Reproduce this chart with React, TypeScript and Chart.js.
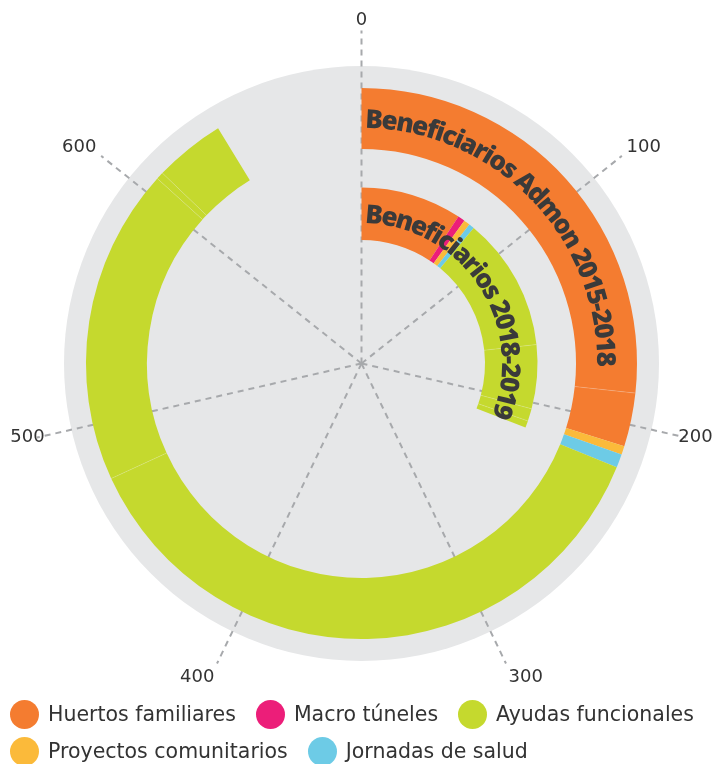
import React, { useEffect, useRef } from 'react';
import { Chart, registerables } from 'chart.js';

Chart.register(...registerables);

// ---- data ----
const seriesNames = ['Huertos familiares', 'Macro túneles', 'Ayudas funcionales', 'Proyectos comunitarios', 'Jornadas de salud'];
const seriesColors = ['#F47C30', '#EC1E79', '#C5D92E', '#FBBA3A', '#6DCBE6'];
const ringLabels = ['Beneficiarios Admon 2015-2018', 'Beneficiarios 2018-2019'];
// stacked segments (in order, clockwise from 0) : series index + value
const admonSeries = [0, 0, 3, 4, 2, 2, 2, 2];
const admonValues = [187, 22, 3.5, 5.5, 259, 130, 3, 29];
const benefSeries = [0, 1, 3, 4, 2, 2, 2, 2];
const benefValues = [65, 4.5, 4, 3.5, 86, 41, 8, 4.5];
const axisMax = 700;
const angleTicks = [0, 100, 200, 300, 400, 500, 600];

const TAU = Math.PI * 2;
const angleOf = (v: number) => -Math.PI / 2 + (v / axisMax) * TAU;
const sum = (a: number[]) => a.reduce((s, v) => s + v, 0);
const TRANSPARENT = 'rgba(0,0,0,0)';

const ringDefs = [
  { ds: 0, series: admonSeries, label: ringLabels[0] },
  { ds: 2, series: benefSeries, label: ringLabels[1] },
];

const decorPlugin = {
  id: 'polarDecor',
  beforeDatasetsDraw(chart: any) {
    const arc = chart.getDatasetMeta(0).data[0];
    if (!arc) return;
    const cx = arc.x, cy = arc.y, R = arc.outerRadius;
    const ctx = chart.ctx as CanvasRenderingContext2D;
    ctx.save();
    // background disc
    ctx.fillStyle = '#E6E7E8';
    ctx.beginPath();
    ctx.arc(cx, cy, R + 22, 0, TAU);
    ctx.fill();
    // dashed split lines
    ctx.setLineDash([6, 5]);
    ctx.lineWidth = 2;
    ctx.strokeStyle = '#A7A9AC';
    for (const t of angleTicks) {
      const a = angleOf(t);
      ctx.beginPath();
      ctx.moveTo(cx, cy);
      ctx.lineTo(cx + Math.cos(a) * (R + 57.5), cy + Math.sin(a) * (R + 57.5));
      ctx.stroke();
    }
    ctx.setLineDash([]);
    // tick labels
    const fs = 18;
    ctx.font = `${fs}px "DejaVu Sans"`;
    ctx.fillStyle = '#333333';
    ctx.textBaseline = 'alphabetic';
    const digitH = fs * 0.729;
    for (const t of angleTicks) {
      const a = angleOf(t);
      const dx = Math.cos(a), dy = Math.sin(a);
      const mid = Math.abs(dy) < 0.3;
      const r = R + (mid ? 49.5 : 63.5);
      const px = cx + dx * r, py = cy + dy * r;
      ctx.textAlign = Math.abs(dx) < 0.3 ? 'center' : dx > 0 ? 'left' : 'right';
      const by = mid ? py + digitH / 2 : dy < 0 ? py : py + digitH;
      ctx.fillText(String(t), px, by);
    }
    ctx.restore();
  },
  afterDatasetsDraw(chart: any) {
    const ctx = chart.ctx as CanvasRenderingContext2D;
    for (const ring of ringDefs) {
      const arcs = chart.getDatasetMeta(ring.ds).data;
      if (!arcs.length) continue;
      const a0 = arcs[0];
      const cx = a0.x, cy = a0.y;
      ctx.save();
      // faint separators between segments of the same series
      ctx.strokeStyle = 'rgba(255,255,255,0.3)';
      ctx.lineWidth = 0.6;
      for (let i = 1; i < ring.series.length; i++) {
        if (ring.series[i] !== ring.series[i - 1]) continue;
        const el = arcs[i];
        const ang = el.startAngle;
        ctx.beginPath();
        ctx.moveTo(cx + Math.cos(ang) * el.innerRadius, cy + Math.sin(ang) * el.innerRadius);
        ctx.lineTo(cx + Math.cos(ang) * el.outerRadius, cy + Math.sin(ang) * el.outerRadius);
        ctx.stroke();
      }
      // curved ring label
      const r = (a0.innerRadius + a0.outerRadius) / 2;
      const fs = 26;
      ctx.font = `800 ${fs}px "Open Sans"`;
      ctx.fillStyle = '#3A3A3A';
      ctx.textAlign = 'center';
      ctx.textBaseline = 'alphabetic';
      const capH = fs * 0.714;
      let s = 4;
      for (const ch of Array.from(ring.label)) {
        const w = ctx.measureText(ch).width;
        const th = a0.startAngle + (s + w / 2) / r;
        ctx.save();
        ctx.translate(cx + Math.cos(th) * r, cy + Math.sin(th) * r);
        ctx.rotate(th + Math.PI / 2);
        ctx.fillText(ch, 0, capH / 2);
        ctx.restore();
        s += w - 1.1;
      }
      ctx.restore();
    }
  },
};

export default function App() {
  const canvasRef = useRef<HTMLCanvasElement | null>(null);

  useEffect(() => {
    if (!canvasRef.current) return;
    const ringData = (vals: number[], ser: number[]) => ({
      data: [...vals, axisMax - sum(vals)],
      backgroundColor: [...ser.map((i) => seriesColors[i]), TRANSPARENT],
    });
    const outer = ringData(admonValues, admonSeries);
    const inner = ringData(benefValues, benefSeries);
    const chart = new Chart(canvasRef.current, {
      type: 'doughnut',
      data: {
        labels: [...admonSeries.map((i) => seriesNames[i]), ''],
        datasets: [
          { label: ringLabels[0], ...outer, borderWidth: 0, weight: 61 } as any,
          { label: 'spacer', data: [axisMax], backgroundColor: [TRANSPARENT], borderWidth: 0, weight: 38.5 } as any,
          { label: ringLabels[1], ...inner, borderWidth: 0, weight: 52.5 } as any,
        ],
      },
      options: {
        responsive: false,
        animation: false,
        events: [],
        cutout: 123.5,
        radius: 275.5,
        rotation: 0,
        circumference: 360,
        layout: { padding: { left: 86, right: 77, top: 88, bottom: 125 } },
        plugins: { legend: { display: false }, tooltip: { enabled: false } },
      } as any,
      plugins: [decorPlugin],
    });
    return () => chart.destroy();
  }, []);

  return (
    <div style={{ position: 'fixed', left: 0, top: 0, width: 714, height: 764, background: '#fff', overflow: 'hidden' }}>
      <canvas ref={canvasRef} width={714} height={764} style={{ position: 'absolute', left: 0, top: 0 }} />
      <div
        style={{
          position: 'absolute',
          left: 10,
          top: 700,
          width: 704,
          display: 'flex',
          flexWrap: 'wrap',
          columnGap: 20,
          rowGap: 8,
          fontFamily: '"DejaVu Sans", sans-serif',
          fontSize: 20.5,
          color: '#333333',
        }}
      >
        {seriesNames.map((name, i) => (
          <div key={name} style={{ display: 'flex', alignItems: 'center', height: 29, whiteSpace: 'nowrap' }}>
            <span style={{ width: 29, height: 29, borderRadius: '50%', background: seriesColors[i], display: 'inline-block', flex: '0 0 auto' }} />
            <span style={{ marginLeft: 9, lineHeight: '29px' }}>{name}</span>
          </div>
        ))}
      </div>
    </div>
  );
}
